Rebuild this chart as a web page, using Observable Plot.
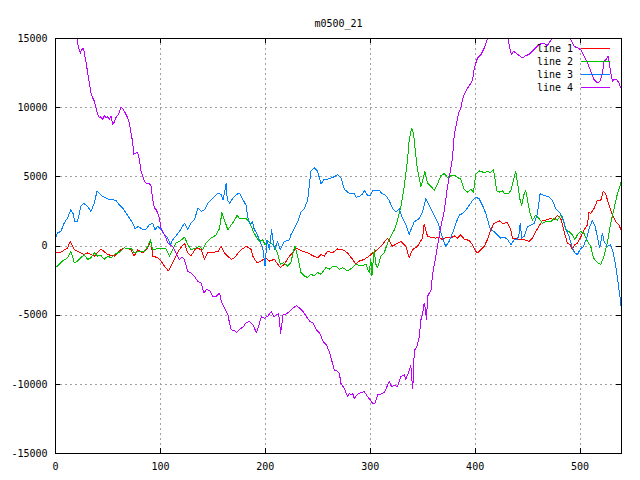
<!DOCTYPE html>
<html>
<head>
<meta charset="utf-8">
<script src="https://cdn.jsdelivr.net/npm/d3@7"></script>
<script src="https://cdn.jsdelivr.net/npm/@observablehq/plot@0.6"></script>
<style>
  html, body { margin: 0; padding: 0; background: white; }
</style>
</head>
<body>
<div id="chart"></div>
<script>
const chartTitle = "m0500_21";
const seriesNames = ["line 1", "line 2", "line 3", "line 4"];
const seriesColors = ["#ff0000", "#00c000", "#0080ff", "#c000ff"];
const xTicks = [0, 100, 200, 300, 400, 500];
const yTicks = [-15000, -10000, -5000, 0, 5000, 10000, 15000];
const xDomain = [0, 539.5];
const yDomain = [-15000, 15000];

const line1 = [[0,-500],[5,-450],[11.5,-140],[14,330],[17.8,-260],[21,-380],[27.4,-620],[30.6,-500],[37,-730],[43.3,-210],[49.7,-620],[56,-730],[62.4,-260],[65.6,-140],[72,-260],[75,-730],[78.3,-260],[83,-500],[87.9,-140],[91,330],[92.7,-730],[97.5,-850],[100.6,-1090],[103.8,-1450],[107.6,-1800],[110,-1450],[113.4,-970],[118,-260],[123,210],[126,-500],[129,-730],[134,-140],[139,-260],[142,-970],[145,-500],[148,-500],[155,-380],[158,-24],[161,-500],[167.5,-970],[170.7,-850],[174,-500],[177,-260],[182,-24],[186.6,-260],[188,-730],[192,-1210],[195.9,-1090],[200.6,-850],[203.8,-1090],[208.6,-970],[214.3,-1560],[218,-1330],[222.9,-730],[226,-500],[229.2,-140],[232.4,-260],[235.6,-380],[240.3,-500],[245,-690],[249.8,-850],[253,-620],[256.2,-730],[259.4,-380],[264,-500],[268.9,-210],[273.7,-260],[278.4,-500],[283.2,-970],[286.3,-1330],[289.5,-1090],[294.3,-970],[299,-730],[302.2,-500],[307,-260],[310.2,-24],[316.5,570],[321.3,-24],[326,210],[329.2,330],[334,-24],[337.1,-850],[340.3,-260],[345,-24],[349.8,570],[351.4,1590],[354.6,690],[357.8,640],[362.5,570],[365.7,640],[368.9,450],[372,640],[376.8,570],[380,735],[383.2,570],[386.3,810],[389.5,500],[394.3,400],[397.5,95],[400.6,-380],[402.2,-500],[405.4,-260],[408.6,-24],[411.7,450],[414.9,1160],[418,1640],[422.9,1825],[426,1640],[430.8,1680],[434,1160],[435.6,570],[438.7,570],[441.9,450],[445,500],[448.3,400],[451.4,330],[454.6,570],[457.8,1040],[461,1450],[464,1825],[467.3,1870],[472,1990],[475.2,1870],[478.4,2230],[481.6,1990],[484.8,1040],[487.9,210],[490.5,95],[492.7,-260],[494.9,95],[497.5,210],[500.6,640],[503.8,1160],[507,1520],[508.6,2460],[510.2,2350],[513.3,2700],[516.5,3290],[519.7,3290],[522.2,3960],[524.4,3770],[527.6,2940],[530.8,2230],[534,1750],[537,1520],[539.5,1100]];

const line2 = [[0,-1560],[1.9,-1450],[6.7,-1090],[11.5,-850],[14.6,-380],[16.2,-730],[17.8,-1210],[21,-1090],[24.2,-850],[27.4,-620],[30.6,-970],[33.8,-850],[37,-500],[40.1,-730],[43.3,-690],[46.5,-970],[49.7,-730],[52.9,-850],[56,-620],[62.4,-380],[65.6,-140],[68.8,-190],[72,-140],[75.2,-500],[80,-380],[84.7,-380],[87.9,-24],[90.4,450],[92.7,-260],[95.9,-210],[100.6,-140],[105.4,-210],[108.6,-730],[111.8,-260],[115,210],[118.2,330],[123,640],[126.1,95],[129.3,-260],[134.1,-140],[137.3,-24],[140.4,-260],[143.6,210],[148.4,570],[153.2,810],[156.4,1280],[158.6,2420],[161.1,1870],[164.3,1160],[167.5,1520],[170.7,1870],[173.2,2230],[175.2,1990],[180.3,1990],[181.6,1990],[184.8,1750],[187.9,1160],[191.1,690],[194.3,330],[197.5,450],[199.7,95],[202.2,330],[205.4,210],[208.6,-24],[211.7,-500],[214.3,-1330],[217.5,-1210],[221.3,-1450],[224.4,-1210],[227,-260],[228.3,-24],[230.8,-730],[234,-1920],[237.1,-2160],[240.3,-2280],[243.5,-2040],[246.7,-2160],[249.8,-1920],[253,-2040],[257.8,-1560],[261,-1680],[264.1,-1490],[267.3,-1450],[270.5,-1680],[273.7,-1560],[278.4,-1800],[281.6,-1640],[286.3,-1330],[291.1,-1450],[295.9,-1330],[299,-1920],[300.6,-970],[301.6,-2160],[303.8,-260],[305.4,-1330],[307,-1560],[310.2,-730],[313.3,-500],[316.5,210],[319.7,690],[322.9,1160],[326,1870],[329.2,2820],[332.4,4310],[335.6,6230],[337.1,7680],[339.4,8520],[341.3,8160],[342.5,7200],[345,5530],[348.3,4310],[349.8,4670],[352,5390],[354.6,4550],[359.4,4190],[361,4000],[364.1,4480],[367.3,5070],[370.5,5240],[373.7,4950],[376.8,5070],[380,5140],[383.2,4950],[386.3,4830],[389.5,4120],[392.7,3890],[395.9,4120],[398.4,3890],[400.6,5190],[403.8,5430],[408.6,5310],[411.7,5380],[414.9,5310],[417.5,5550],[418.7,4950],[420.6,4000],[422.9,3890],[426,4000],[428.3,3770],[431.4,3770],[434,4000],[436.5,4760],[438.7,5380],[440.3,4600],[442.9,3290],[444.4,2940],[446.7,3770],[448.3,4000],[450.5,3060],[452.4,2350],[454.6,1870],[457.8,2230],[461,1990],[464.1,1640],[467.3,1750],[472,1750],[475.2,1990],[478.4,1870],[481.6,2230],[484.1,1870],[486.3,1160],[489.5,1040],[492.7,810],[494.9,450],[497.5,810],[500.6,1040],[503.8,920],[507,330],[510.2,-24],[512.7,-850],[516.5,-1210],[519.7,-1330],[522.9,-730],[526,210],[529.2,1640],[532.4,2700],[535.6,3770],[539.5,4700]];

const line3 = [[0,580],[1.9,940],[5.1,1060],[8.3,1660],[11.5,2020],[14.6,2620],[16.6,2380],[18.5,1780],[21,1780],[24.2,2860],[26.8,3100],[30.6,2860],[33.8,2500],[37,3100],[39.5,3950],[41.7,3830],[44.9,3590],[48.1,3470],[51.3,3340],[54.5,3340],[57.7,3300],[60.8,2980],[64,2740],[67.2,2380],[70.4,2020],[73.6,1660],[75.8,1230],[78.9,1420],[83,1180],[86.3,1230],[89.5,1540],[92.7,1660],[94.9,1180],[97.5,1420],[100.6,1180],[103.8,820],[107,580],[109.6,100],[111.8,460],[115,750],[118.2,1060],[123,1660],[126.1,1180],[129.3,1660],[132.5,1900],[135.7,2740],[138.9,2500],[142,2620],[145.2,3100],[148.4,3340],[151.6,3590],[154.8,3830],[158,3710],[159.6,3340],[161.1,3830],[162.7,4550],[163.7,3340],[166,3100],[169.1,3470],[172.3,3710],[175.5,3830],[178.7,3340],[180,3170],[181.6,2940],[183.8,1870],[185.7,1520],[187.9,1750],[189.5,1160],[191.1,1040],[194.3,450],[197.5,-140],[199.7,-1450],[201.6,450],[203.8,-260],[206,1160],[208.6,-260],[211.7,330],[214.3,-260],[218.1,330],[222.9,450],[224.4,810],[227.6,1280],[230.8,1750],[234,2460],[237.1,2700],[240.3,3290],[243.5,5430],[246.7,5660],[249.8,5430],[253,4480],[256.2,4830],[259.4,4830],[264.1,4950],[268.9,5140],[272.1,4950],[275.2,4120],[278.4,3890],[281.6,3770],[284.8,3770],[286.3,3530],[289.5,3580],[292.7,3770],[294.3,4010],[297.5,3650],[300,3650],[302.2,4010],[305.4,4050],[308.6,4010],[311.7,3770],[314.9,3650],[318.1,3290],[321.3,2700],[324.4,2460],[327.6,2700],[330.8,1990],[334,1520],[337.1,810],[338.7,1160],[341.9,1750],[346.7,1990],[349.8,2460],[353,3410],[356.2,2940],[359.4,2460],[364.1,1750],[365.7,1400],[368.9,570],[372,-24],[375.2,330],[378.4,920],[381.6,1640],[384.8,2230],[387.9,2350],[391.1,2580],[394.3,2940],[397.5,3290],[400.6,3530],[403.8,3410],[407,2940],[410.2,2350],[413.3,1520],[414.9,1160],[418.1,1040],[421.3,810],[424.4,570],[427.6,640],[430.8,500],[434,95],[437.1,450],[440.3,450],[441.9,920],[442.9,1640],[444.4,570],[446.7,690],[449.8,1400],[453,1520],[456.2,1640],[459.4,2350],[461.9,3770],[465.7,3650],[470.5,3530],[473.7,3290],[476.8,2700],[480,2460],[483.2,2110],[486.3,1280],[489.5,690],[492.7,-140],[494.9,-500],[497.5,-620],[500,-260],[503.2,-24],[506.3,570],[508.6,1280],[511.7,1830],[514,1520],[516.5,690],[518.7,-140],[521.3,920],[522.9,330],[526,-24],[529.2,95],[531.7,-500],[534,-1450],[536.2,-2630],[538.1,-3700],[539.5,-4700]];

const line4 = [[0,17800],[5,17200],[10,16400],[15,15800],[18,15400],[20.4,15000],[21.7,14400],[23.6,13940],[24.8,14180],[26.8,14300],[28,13700],[29.3,13240],[30.6,12520],[32.2,11790],[33.8,11070],[35.4,10710],[37,10470],[38.5,9990],[40.1,9510],[41.7,9270],[43.3,9340],[44.9,9150],[46.5,9440],[48.1,9270],[49.7,9340],[51.3,9150],[52.9,9390],[54.5,8790],[56,8960],[57.6,9270],[59.2,9440],[60.8,9630],[62.4,10060],[64,9920],[65.6,9750],[67.2,9510],[68.8,9270],[70.4,8910],[72,8190],[73.6,7470],[74.5,6620],[76.8,6740],[78.3,6790],[79.9,6260],[81.5,5420],[83.1,5060],[84.7,4700],[86.3,4530],[89.5,4530],[91,4330],[92.7,3370],[94.3,2740],[95.9,2620],[97.5,2380],[99,2020],[100.6,1300],[102.2,1060],[103.8,820],[105.4,580],[107,220],[108.6,97],[111.8,-24],[115,-510],[118.2,-990],[120.4,-800],[122.9,-990],[126.1,-1840],[129.3,-1960],[132.5,-2200],[135.7,-2560],[138.9,-2680],[141.4,-3400],[143.6,-3160],[146.8,-3210],[150,-3650],[153.2,-3650],[156.4,-3400],[158,-4010],[159.6,-4250],[162.7,-4730],[164.3,-4970],[165.9,-5580],[167.5,-6060],[170.7,-6110],[172.3,-6250],[175.5,-6010],[178.7,-5870],[181.8,-5530],[185,-5460],[188.2,-5700],[191.4,-6250],[193.6,-5820],[196.2,-5100],[199.4,-5220],[202.5,-5050],[205.7,-4730],[208.3,-5100],[210.5,-4970],[212.7,-4900],[214.6,-6300],[216.9,-4970],[220.1,-4900],[223.2,-4730],[226.4,-4490],[229.6,-4320],[232.8,-4490],[235.9,-4730],[239.2,-5100],[242.4,-5460],[245.5,-5580],[248.7,-6060],[251.9,-6300],[255.1,-6910],[258.3,-7150],[261.5,-7750],[265.7,-8960],[268.9,-9060],[270.5,-9180],[272.1,-9930],[275.2,-10290],[278.4,-10890],[280,-10650],[281.6,-10770],[283.2,-10650],[284.8,-11010],[287.3,-10770],[290.5,-10600],[294.3,-10530],[297.5,-10890],[300,-11130],[302.2,-11370],[304.4,-11370],[307,-10770],[310.2,-10700],[313.3,-10600],[315.9,-10170],[318.1,-9800],[320.3,-10170],[322.9,-10050],[326,-10170],[329.2,-9440],[332.4,-9320],[334,-9640],[336.2,-9200],[338.7,-8600],[339.7,-9680],[340.6,-10290],[341.6,-8230],[342.5,-7510],[345,-7150],[346.7,-6550],[348.3,-5340],[349.8,-4970],[351.4,-4130],[352.4,-4490],[353.7,-5340],[354.6,-3650],[356.2,-3400],[357.8,-3280],[359.4,-2080],[361,-1350],[362.5,-750],[364.1,-24],[367.3,1420],[370.5,2500],[373.7,4310],[376.8,5630],[378.4,6350],[380,7920],[381.6,8640],[383.2,9240],[384.8,9720],[386.3,9960],[387.9,10570],[389.5,10930],[392.7,11410],[395.9,11770],[397.5,12010],[399,12730],[400.6,13220],[402.2,13580],[405.4,13820],[408.6,14300],[410.2,14660],[411.7,15000],[415,15600],[420,16200],[424,16000],[428,15500],[431.4,15000],[433.3,14200],[434.6,13840],[436.5,14080],[438.7,13960],[441.9,13770],[445.1,13600],[448.3,13770],[451.4,13840],[454.6,14080],[457.8,14320],[461,14560],[463.2,14630],[465.7,14680],[468.3,14440],[470.5,14680],[473.7,15040],[477,15400],[481,15800],[485,15700],[488,15200],[489.5,15040],[491.1,14920],[494.3,14440],[497.5,14320],[500.6,14200],[503.2,13840],[505.4,13480],[507,13240],[510.2,12640],[513.3,12040],[515,11910],[516.5,11790],[519,11910],[521.3,12520],[522.9,13360],[525.4,13530],[526.7,13720],[527.6,13360],[529.2,12520],[530.8,11910],[532.4,12040],[535,12040],[537.1,11790],[539.5,11300]];

const allSeries = [line1, line2, line3, line4];

const W = 640, H = 480;
const mL = 55, mR = 19, mT = 38, mB = 27;
const frameW = W - mL - mR, frameH = H - mT - mB;
const tickLen = 5;
const font = "DejaVu Sans Mono";

function legend(index, scales, values, dims) {
  const g = d3.create("svg:g")
    .attr("font-family", font)
    .attr("font-size", 10);
  const right = dims.width - dims.marginRight;
  const top = dims.marginTop;
  seriesNames.forEach((name, i) => {
    const y = top + 10.5 + i * 13;
    g.append("text")
      .attr("x", right - 48).attr("y", y)
      .attr("text-anchor", "end").attr("dy", "0.35em")
      .attr("fill", "black").text(name);
    g.append("line")
      .attr("x1", right - 40).attr("x2", right - 11)
      .attr("y1", y).attr("y2", y)
      .attr("stroke", seriesColors[i]).attr("stroke-width", 1)
      .attr("shape-rendering", "crispEdges");
  });
  return g.node();
}

const marks = [
  Plot.ruleX(xTicks.filter(d => d > xDomain[0] && d < xDomain[1]), {x: d => d, stroke: "#a0a0a0", strokeDasharray: "2,3", shapeRendering: "crispEdges"}),
  Plot.ruleY(yTicks.filter(d => d > yDomain[0] && d < yDomain[1]), {y: d => d, stroke: "#a0a0a0", strokeDasharray: "2,3", shapeRendering: "crispEdges"}),
  ...allSeries.map((s, i) => Plot.line(s, {x: d => d[0], y: d => d[1], stroke: seriesColors[i], strokeWidth: 1, clip: true, shapeRendering: "crispEdges"})),
  Plot.tickX(xTicks, {x: d => d, insetTop: frameH - tickLen, stroke: "black", shapeRendering: "crispEdges"}),
  Plot.tickX(xTicks, {x: d => d, insetBottom: frameH - tickLen, stroke: "black", shapeRendering: "crispEdges"}),
  Plot.tickY(yTicks, {y: d => d, insetRight: frameW - tickLen, stroke: "black", shapeRendering: "crispEdges"}),
  Plot.tickY(yTicks, {y: d => d, insetLeft: frameW - tickLen, stroke: "black", shapeRendering: "crispEdges"}),
  Plot.frame({stroke: "black", strokeWidth: 1, shapeRendering: "crispEdges"}),
  Plot.axisX({ticks: xTicks, tickSize: 0, tickPadding: 9, tickFormat: d => String(d)}),
  Plot.axisY({ticks: yTicks, tickSize: 0, tickPadding: 8, tickFormat: d => String(d)}),
  Plot.text([chartTitle], {text: d => d, frameAnchor: "top", dy: -19, fill: "black"}),
  legend
];

const chart = Plot.plot({
  width: W,
  height: H,
  marginLeft: mL,
  marginRight: mR,
  marginTop: mT,
  marginBottom: mB,
  x: {domain: xDomain, label: null},
  y: {domain: yDomain, label: null},
  style: {fontFamily: font, fontSize: "10px", background: "white", color: "black"},
  marks
});
document.getElementById("chart").appendChild(chart);
</script>
</body>
</html>
